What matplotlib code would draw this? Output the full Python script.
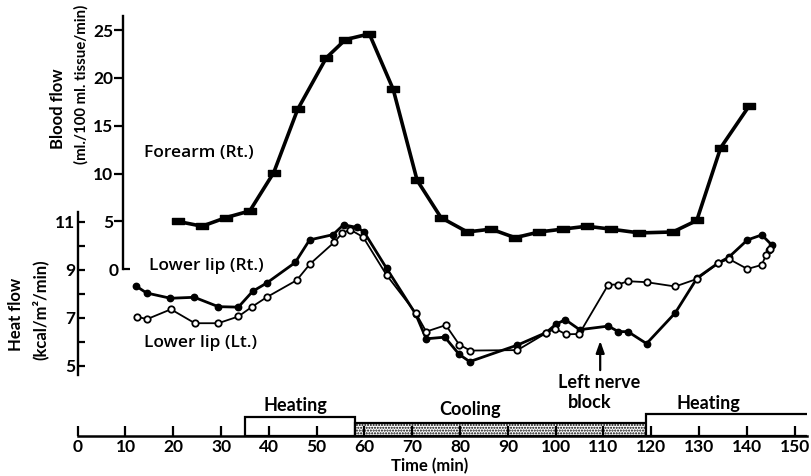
"""Forearm blood flow and lower-lip heat flow during heating / cooling,
with the left nerve block marked."""
import matplotlib
matplotlib.use("Agg")
import matplotlib.pyplot as plt
from matplotlib.path import Path
from matplotlib.patches import Rectangle

W, H = 811, 476
plt.rcParams["font.family"] = ["Lato", "DejaVu Sans"]
plt.rcParams["font.weight"] = "bold"
plt.rcParams["hatch.linewidth"] = 1.0

# forearm (Rt.) blood flow, ml/100 ml tissue/min
arm_t = [21, 26, 31, 36, 41, 46, 52, 56, 61, 66, 71, 76, 81.5, 86.5,
         91.5, 96.5, 101.5, 106.5, 111.5, 117.5, 124.5, 129.5, 134.5, 140.5]
arm_bf = [5.0, 4.5, 5.4, 6.1, 10.1, 16.7, 22.1, 24.0, 24.6, 18.8, 9.3, 5.4,
          3.9, 4.2, 3.3, 3.9, 4.2, 4.5, 4.2, 3.8, 3.9, 5.1, 12.7, 17.1]

# lower lip heat flow, kcal/m2/min
rt_t = [12.2, 14.4, 19.4, 24.4, 29.4, 33.6, 36.6, 39.5, 45.5, 48.5, 53.4,
        55.6, 58.5, 59.9, 64.6, 70.7, 72.9, 76.8, 79.8, 82.0, 92.0, 98.0,
        100.0, 102.0, 105.0, 111.0, 113.1, 115.1, 119.0, 125.0, 129.6,
        134.0, 136.2, 140.1, 143.1, 145.2, 144.7]
rt_q = [8.32, 8.03, 7.81, 7.85, 7.46, 7.44, 8.10, 8.44, 9.30, 10.24, 10.46,
        10.87, 10.76, 10.57, 9.06, 7.15, 6.12, 6.19, 5.47, 5.17, 5.86, 6.38,
        6.72, 6.92, 6.50, 6.65, 6.42, 6.42, 5.92, 7.20, 8.66,
        9.28, 9.52, 10.24, 10.45, 10.03, 9.82]
lt_t = [12.4, 14.5, 19.5, 24.5, 29.4, 33.6, 36.5, 39.5, 45.8, 48.6, 53.7,
        55.3, 57.0, 59.7, 64.6, 70.7, 72.9, 77.0, 79.8, 82.1, 92.0, 98.0,
        99.9, 102.1, 104.9, 111.0, 113.0, 115.1, 119.0, 125.0, 129.6,
        134.0, 136.2, 140.1, 143.1, 144.0, 144.8]
lt_q = [7.04, 6.94, 7.35, 6.77, 6.77, 7.05, 7.46, 7.85, 8.56, 9.24, 10.15,
        10.52, 10.67, 10.36, 8.78, 7.20, 6.42, 6.69, 5.88, 5.63, 5.65, 6.36,
        6.54, 6.31, 6.32, 8.38, 8.38, 8.52, 8.48, 8.30, 8.62,
        9.27, 9.45, 9.03, 9.20, 9.62, 9.88]

# protocol: start, end (min), label
phase_start = [35, 58, 119]
phase_end = [58, 119, 152.6]
phase_name = ["Heating", "Cooling", "Heating"]
block_t = 109.3   # left nerve block


def fx(px):
    return px / W


def fy(py):
    return 1 - py / H


fig = plt.figure(figsize=(W / 100, H / 100), dpi=100)
ax = fig.add_axes([0, 0, 1, 1])
ax.set_xlim(-16.26, 153.4)
ax.set_ylim(0.404, 20.2375)
ax.patch.set_visible(False)
for s in ["top", "right", "bottom"]:
    ax.spines[s].set_visible(False)
ax.set_xticks([])
ax.spines["left"].set_position(("data", 0))
ax.spines["left"].set_bounds(4.6, 11.4)
ax.spines["left"].set_linewidth(1.7)
ax.set_yticks([5, 7, 9, 11])
ax.set_yticks([6, 8, 10], minor=True)
ax.tick_params(axis="y", which="both", direction="in", length=5, width=1.6,
               pad=1.5, labelsize=12.5)

ax2 = ax.twinx()
ax2.set_ylim(-21.6, 28.14)
for s in ["top", "right", "bottom"]:
    ax2.spines[s].set_visible(False)
ax2.spines["left"].set_visible(True)
ax2.spines["left"].set_position(("data", 9.5))
ax2.spines["left"].set_bounds(0, 26.5)
ax2.spines["left"].set_linewidth(1.7)
ax2.yaxis.tick_left()
ax2.set_yticks([5, 10, 15, 20, 25])
ax2.set_yticks([0], labels=["0"], minor=True)
ax2.tick_params(axis="y", which="major", direction="out", length=6.5,
                width=1.6, pad=0.5, labelsize=12.5)
ax2.tick_params(axis="y", which="minor", direction="in", length=5,
                width=1.6, pad=3, labelsize=12.5)

bar = Path([(-1, -0.45), (1, -0.45), (1, 0.45), (-1, 0.45), (-1, -0.45)],
           [Path.MOVETO, Path.LINETO, Path.LINETO, Path.LINETO,
            Path.CLOSEPOLY])
ax2.plot(arm_t, arm_bf, color="k", lw=2.6, marker=bar, ms=8.5,
         mfc="k", mec="k")

ax.plot(rt_t, rt_q, color="k", lw=2.0, marker="o", ms=4.6, mfc="k",
        mec="k")
ax.plot(lt_t, lt_q, color="k", lw=1.3, marker="o", ms=4.6, mfc="white",
        mec="k", mew=1.3)

ax.annotate("", xy=(block_t, 6.15), xytext=(block_t, 4.7),
            arrowprops=dict(arrowstyle="-|>,head_length=0.7,head_width=0.25",
                            color="k", lw=1.6))

txt = dict(fontsize=12, color="k", ha="center", va="center")
curve = dict(fontsize=12.5, color="k", ha="center", va="center",
             family=["Open Sans", "DejaVu Sans"], fontweight="semibold")
fig.text(fx(199), fy(153), "Forearm (Rt.)", **curve)
fig.text(fx(206), fy(266), "Lower lip (Rt.)", **curve)
fig.text(fx(201), fy(343), "Lower lip (Lt.)", **curve)
fig.text(fx(599), fy(382), "Left nerve", fontsize=13, color="k",
         ha="center", va="center")
fig.text(fx(590), fy(402), "block", fontsize=13, color="k",
         ha="center", va="center")
fig.text(fx(58), fy(109), "Blood flow", rotation=90, **txt)
fig.text(fx(81), fy(84), "(ml./100 ml. tissue/min)", rotation=90,
         fontsize=10.8, color="k", ha="center", va="center")
fig.text(fx(16), fy(314), "Heat flow", rotation=90, **txt)
fig.text(fx(40), fy(310), "(kcal/m²/min)", rotation=90, **txt)
fig.text(fx(430), fy(466), "Time (min)", **txt)

# time axis with protocol boxes
axt = fig.add_axes([fx(77.7), fy(436), fx(807) - fx(77.7), 32 / H])
axt.set_xlim(0, 152.6)
axt.set_ylim(0, 32)
axt.patch.set_visible(False)
for s in ["top", "right", "left"]:
    axt.spines[s].set_visible(False)
axt.spines["bottom"].set_linewidth(1.8)
axt.set_yticks([])
axt.set_xticks(range(0, 151, 10))
axt.tick_params(axis="x", direction="in", length=7, width=1.6, pad=2,
                labelsize=12.5)

box_h = [19.3, 13.3, 22]
lab_x = [45.5, 82, 132]
lab_y = [31, 26, 33]
for i in range(len(phase_start)):
    w = phase_end[i] - phase_start[i]
    if i == len(phase_start) - 1:
        w += 5   # open-ended, runs off the record
    rect = Rectangle((phase_start[i], 0), w, box_h[i], facecolor="white",
                     edgecolor="k", lw=1.6,
                     hatch="......" if phase_name[i] == "Cooling" else None)
    axt.add_patch(rect)
    axt.text(lab_x[i], lab_y[i], phase_name[i], ha="center", va="center",
             fontsize=13, clip_on=False)

fig.savefig("out.png", dpi=100)
